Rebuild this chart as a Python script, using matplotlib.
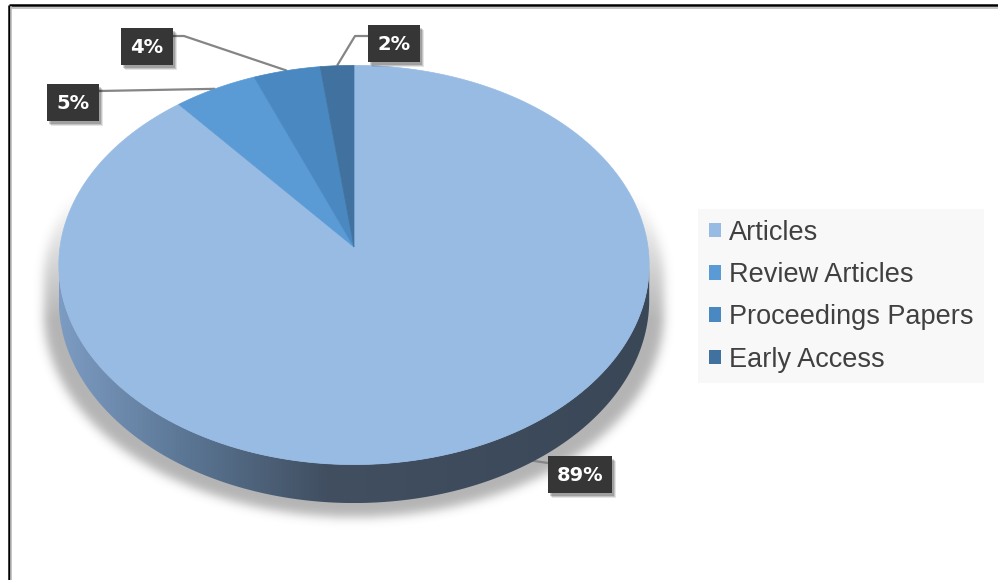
import numpy as np
import matplotlib.pyplot as plt
from matplotlib.patches import Polygon, Rectangle, Patch
from matplotlib.path import Path
from matplotlib.transforms import Affine2D
from matplotlib.colors import to_rgb

# document types and their share (%)
labels = ['Articles', 'Review Articles', 'Proceedings Papers', 'Early Access']
shares = [89, 5, 4, 2]
colors = ['#98bbe3', '#5b9bd5', '#4a88c2', '#41729f']

# data label boxes: top-left corner, width; optional leader elbow
box_xy = [(548, 456), (47, 84), (121, 28), (368, 25)]
box_w = [64, 52, 52, 52]
box_h = 37
elbows = [None, None, (184, 36), (355, 36)]

W, H = 998, 580
# 3D pie geometry in pixels (perspective tilted disc)
CX, CY = 354, 247
RX, RY = 294, 198
K = 0.09
DEPTH = 35

plt.rcParams['hatch.color'] = '#4e4e4e'
plt.rcParams['hatch.linewidth'] = 1.5


def rim(phi, drop=0.0):
    u = np.sin(phi)
    v = -np.cos(phi)
    w = 1 - K * v
    return CX + RX * u / w, CY + (RY * v + drop) / w


fig = plt.figure(figsize=(W / 100, H / 100), dpi=100)
ax = fig.add_axes([0, 0, 1, 1])
ax.set_xlim(0, W)
ax.set_ylim(H, 0)
ax.axis('off')

# silhouette pieces
full = np.linspace(0, 2 * np.pi, 721)
tx, ty = rim(full)
top_path = Path(np.column_stack([tx, ty]))

phis = np.linspace(0, 2 * np.pi, 3601)
xs = rim(phis)[0]
phi_r = phis[np.argmax(xs)]
phi_l = phis[np.argmin(xs)]
front = np.linspace(phi_r, phi_l, 300)
fx, fy = rim(front)
bx, by = rim(front[::-1], DEPTH)
side_xy = np.column_stack([np.r_[fx, bx], np.r_[fy, by]])
side_path = Path(side_xy)

# soft drop shadow under the disc
yy, xx = np.mgrid[0:H, 0:W] + 0.5
pts = np.column_stack([xx.ravel(), yy.ravel()])
shift = Affine2D().translate(-CX, 0).scale(1.05, 1.0).translate(CX, 14)
mask = (top_path.transformed(shift).contains_points(pts) |
        side_path.transformed(shift).contains_points(pts)).reshape(H, W).astype(float)
sig = 5
kx = np.arange(-3 * sig, 3 * sig + 1)
kern = np.exp(-kx ** 2 / (2 * sig ** 2))
kern /= kern.sum()
blur = np.zeros_like(mask)
for k, wt in zip(kx, kern):
    blur += wt * np.roll(mask, k, axis=1)
mask = blur
blur = np.zeros_like(mask)
for k, wt in zip(kx, kern):
    blur += wt * np.roll(mask, k, axis=0)
fade = np.clip((yy - 190) / 130, 0, 1)
shadow = np.zeros((H, W, 4))
shadow[..., :3] = 0.3
shadow[..., 3] = blur * fade * 0.42
ax.imshow(shadow, extent=[0, W, H, 0], zorder=1, interpolation='bilinear')

# side wall with horizontal shading
side_patch = Polygon(side_xy, closed=True, facecolor='none', edgecolor='none', zorder=3)
ax.add_patch(side_patch)
stops = [(0.0, '#7d9cc3'), (0.22, '#5a7593'), (0.45, '#414f61'), (1.0, '#3a4757')]
gx = np.linspace(0, 1, 400)
grad = np.array([np.interp(gx, [s[0] for s in stops], [to_rgb(s[1])[c] for s in stops])
                 for c in range(3)]).T[np.newaxis, :, :]
x0, x1 = side_xy[:, 0].min(), side_xy[:, 0].max()
y0, y1 = side_xy[:, 1].min(), side_xy[:, 1].max()
im = ax.imshow(grad, extent=[x0, x1, y1, y0], aspect='auto', zorder=3,
               interpolation='bilinear')
im.set_clip_path(side_patch)

# top face wedges, clockwise from 12 o'clock
bounds = np.r_[0, np.cumsum(shares)] / sum(shares) * 2 * np.pi
for i, c in enumerate(colors):
    arc = np.linspace(bounds[i], bounds[i + 1], 200)
    ax_, ay_ = rim(arc)
    poly = np.column_stack([np.r_[CX, ax_], np.r_[CY, ay_]])
    ax.add_patch(Polygon(poly, closed=True, facecolor=c, edgecolor=c, lw=0.5, zorder=4))

# data labels with leader lines
for i, s in enumerate(shares):
    mid = (bounds[i] + bounds[i + 1]) / 2
    mx, my = rim(mid)
    bxp, byp = box_xy[i]
    if i == 0:
        ex, ey = bxp, byp + 7
    elif bxp > mx:
        ex, ey = bxp, byp + 11
    else:
        ex, ey = bxp + box_w[i], byp + 7
    if i == 2:
        ey = byp + 8
    if elbows[i] is None:
        lx, ly = [mx, ex], [my, ey]
    else:
        lx, ly = [mx, elbows[i][0], ex], [my, elbows[i][1], ey]
    ax.plot(lx, ly, color='#858585', lw=1.6, zorder=2, solid_capstyle='butt')
    for off, a in [(5, 0.10), (4, 0.14), (3, 0.18)]:
        ax.add_patch(Rectangle((bxp + off - 1, byp + off), box_w[i], box_h,
                               facecolor='black', edgecolor='none', alpha=a, zorder=5))
    ax.add_patch(Rectangle((bxp, byp), box_w[i], box_h, facecolor='#363636',
                           edgecolor='none', lw=0, hatch='..', zorder=6))
    ax.text(bxp + box_w[i] / 2, byp + box_h / 2 + 1, f'{s}%', color='white',
            fontsize=14, fontweight='bold', family='DejaVu Sans',
            ha='center', va='center', zorder=7)

# chart frame (top and left edges)
ax.plot([9, W], [5, 5], color='black', lw=1.8, zorder=8, solid_capstyle='butt')
ax.plot([9, 9], [5, H], color='black', lw=1.8, zorder=8, solid_capstyle='butt')
ax.plot([11, W], [7.5, 7.5], color='#bbbbbb', lw=1.2, zorder=8)
ax.plot([11.5, 11.5], [7, H], color='#bbbbbb', lw=1.2, zorder=8)

handles = [Patch(facecolor=c, edgecolor='none') for c in colors]
leg = ax.legend(handles, labels, loc='upper left', bbox_to_anchor=(698, 209),
                bbox_transform=ax.transData, borderaxespad=0, frameon=True,
                fancybox=False, facecolor='#f8f8f8', edgecolor='none', framealpha=1,
                prop={'family': 'Liberation Sans', 'size': 19.5},
                handlelength=0.45, handleheight=0.45, handletextpad=0.3,
                labelspacing=0.6, borderpad=0.4)
for t in leg.get_texts():
    t.set_color('#404040')

fig.savefig('out.png', dpi=100)
